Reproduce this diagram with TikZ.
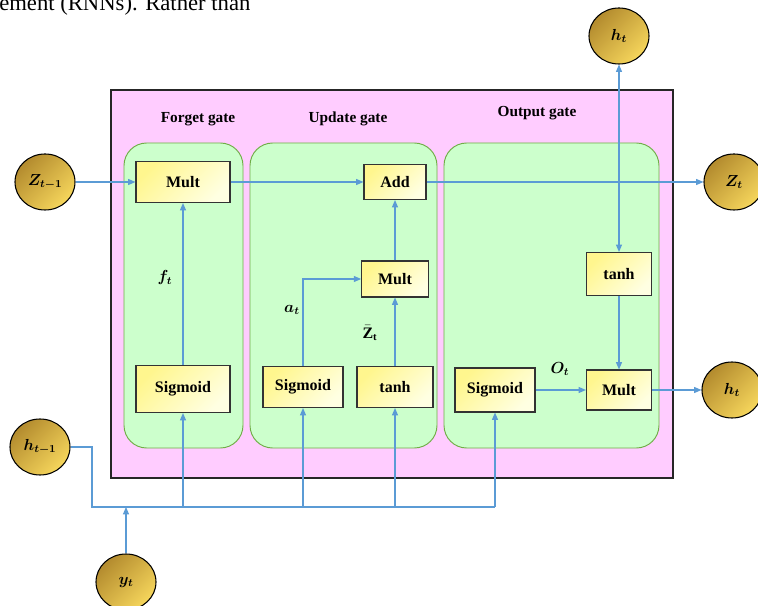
\documentclass[tikz,border=0pt]{standalone}
\usepackage{amsmath,bm}
\usepackage{fontspec}
\setmainfont{Liberation Serif}
\usetikzlibrary{arrows.meta,shapes.geometric}

\definecolor{cellpink}{HTML}{FFCCFF}
\definecolor{gatefill}{HTML}{CCFFCC}
\definecolor{gateline}{HTML}{70AD47}
\definecolor{linkblue}{HTML}{5B9BD5}
\definecolor{boxtop}{HTML}{FFF68E}
\definecolor{boxbot}{HTML}{FFFFE2}
\definecolor{golddark}{HTML}{B38B2E}
\definecolor{goldlight}{HTML}{F6D65C}

\begin{document}
\begin{tikzpicture}[x=0.75pt,y=-0.75pt,
  opbox/.style={draw=black!80,line width=0.8pt,top color=boxtop,bottom color=boxbot,
    shading angle=45,font=\fontsize{12}{14}\selectfont\bfseries,inner sep=2pt},
  state/.style={ellipse,draw=black,line width=0.8pt,top color=golddark,bottom color=goldlight,
    shading angle=45,minimum width=45pt,minimum height=42pt,inner sep=1pt,
    font=\fontsize{12}{14}\selectfont},
  gatebg/.style={draw=gateline,fill=gatefill,line width=0.7pt,rounded corners=17pt},
  title/.style={font=\fontsize{11.5}{13}\selectfont\bfseries},
  mathlab/.style={font=\fontsize{12}{14}\selectfont},
  wire/.style={draw=linkblue,line width=0.8pt},
  link/.style={wire,-{Triangle[length=5.5pt,width=4.5pt]}}]
\useasboundingbox (0,0) rectangle (758,606);

% ========= 页面残留文字 =========
\begin{scope}
\clip (0,0) rectangle (320,20);
\node[anchor=base west,inner sep=0pt,font=\fontsize{17}{19}\selectfont] (pagetext) at (-1,11) {ement (RNNs). Rather than};
\end{scope}

% ========= 外框与三个门 =========
\draw[draw=black!85,fill=cellpink,line width=0.8pt] (111,90) rectangle (673,478);
\draw[gatebg] (124,143) rectangle (243,448);
\draw[gatebg] (250,143) rectangle (437,448);
\draw[gatebg] (444,143) rectangle (659,448);
\node[title] (fgtitle) at (198,119) {Forget gate};
\node[title] (ugtitle) at (348,119) {Update gate};
\node[title] (ogtitle) at (537,113) {Output gate};

% ========= 左：Forget gate =========
\node[opbox,minimum width=70.5pt,minimum height=30.75pt] (fmult) at (183,182) {Mult};
\node[opbox,minimum width=70.5pt,minimum height=35.25pt] (fsig) at (183,389) {Sigmoid};
\node[mathlab] (flab) at (165,278) {$\bm{f_t}$};

% ========= 中：Update gate =========
\node[opbox,minimum width=46.5pt,minimum height=26.25pt] (add) at (395,182) {Add};
\node[opbox,minimum width=50pt,minimum height=27pt] (umult) at (395,279) {Mult};
\node[opbox,minimum width=60pt,minimum height=30.75pt] (usig) at (303,387) {Sigmoid};
\node[opbox,minimum width=57pt,minimum height=30.75pt] (utanh) at (395,387) {tanh};
\node[mathlab] (alab) at (292,310) {$\bm{a_t}$};
\node[mathlab] (zlab) at (370,333) {$\bar{\mathbf{Z}}_{\mathbf{t}}$};

% ========= 右：Output gate =========
\node[opbox,minimum width=48.75pt,minimum height=32.25pt] (otanh) at (619,274) {tanh};
\node[opbox,minimum width=60pt,minimum height=33pt] (osig) at (495,390) {Sigmoid};
\node[opbox,minimum width=48.75pt,minimum height=30pt] (omult) at (619,390) {Mult};
\node[mathlab] (olab) at (560,369) {$\bm{O_t}$};

% ========= 输入输出状态 =========
\node[state] (zprev) at (45,182) {$\bm{Z_{t-1}}$};
\node[state] (zt) at (734,182) {$\bm{Z_t}$};
\node[state] (htop) at (619,36) {$\bm{h_t}$};
\node[state] (hout) at (732,390) {$\bm{h_t}$};
\node[state] (hprev) at (40,447) {$\bm{h_{t-1}}$};
\node[state] (yt) at (126,582) {$\bm{y_t}$};

% ========= 连线 =========
\draw[link] (zprev) -- (fmult);
\draw[link] (fmult) -- (add);
\draw[link] (add) -- (zt);
\draw[link] (fsig) -- (fmult);
\draw[link] (usig) |- (umult);
\draw[link] (utanh) -- (umult);
\draw[link] (umult) -- (add);
\draw[link] (osig) -- (omult);
\draw[link] (otanh) -- (omult);
\draw[link] (omult) -- (hout);
\coordinate (split) at (otanh |- add);
\draw[link] (split) -- (otanh);
\draw[link] (split) -- (htop);

% 底部总线
\coordinate (busL) at (92,507);
\coordinate (busR) at (osig |- busL);
\draw[wire] (hprev.east) -- (hprev.east -| busL) -- (busL) -- (busR);
\draw[link] (yt) -- (yt |- busL);
\foreach \g in {fsig,usig,utanh,osig}
  \draw[link] (\g |- busL) -- (\g);
\end{tikzpicture}
\end{document}
